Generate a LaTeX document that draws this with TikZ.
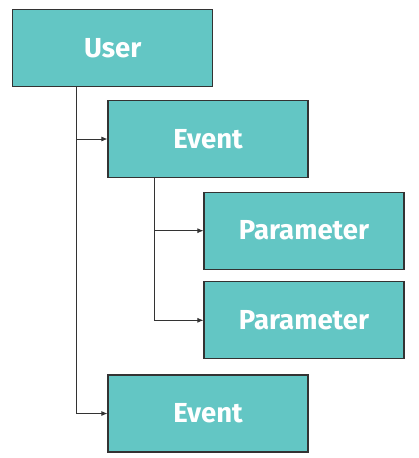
\documentclass[tikz,border=0pt]{standalone}
\usepackage{fontspec}
\setsansfont{Fira Sans}
\usetikzlibrary{arrows.meta}
\definecolor{boxteal}{HTML}{63C6C4}
\definecolor{edgegrey}{HTML}{333333}
\tikzset{
  entity/.style={fill=boxteal,draw=edgegrey,line width=1.2pt,minimum width=200pt,minimum height=77pt,
    inner sep=0pt,text=white,font=\sffamily\bfseries\fontsize{27.5}{32}\selectfont},
  link/.style={draw=edgegrey,line width=0.8pt,-{Latex[length=6pt,width=5pt]}}
}
\begin{document}
\begin{tikzpicture}[x=1pt,y=-1pt]
      \useasboundingbox (0,0) rectangle (418,458);
      \draw
        (112.7, 48) node[entity] (user){User}
        (208, 139) node[entity] (event1){Event}
        (304, 230.7) node[entity] (param1){Parameter}
        (304, 320.3) node[entity] (param2){Parameter}
        (208, 413.5) node[entity] (event2){Event};
      \coordinate (userdrop) at (76.5, 0);
      \coordinate (eventdrop) at (154, 0);
      \begin{scope}[link]
        \draw (user.south -| userdrop) |- (event1.west);
        \draw (user.south -| userdrop) |- (event2.west);
        \draw (event1.south -| eventdrop) |- (param1.west);
        \draw (event1.south -| eventdrop) |- (param2.west);
      \end{scope}
      
    \end{tikzpicture}
\end{document}
